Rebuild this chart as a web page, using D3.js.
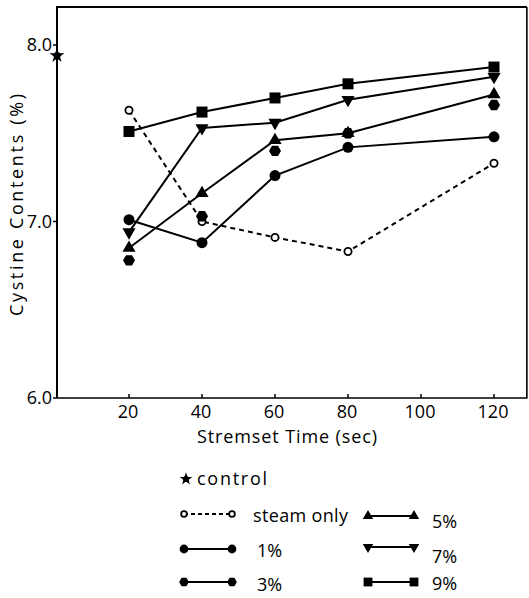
<!DOCTYPE html>
<html>
<head>
<meta charset="utf-8">
<script src="https://cdn.jsdelivr.net/npm/d3@7"></script>
<style>
  html, body { margin: 0; padding: 0; background: #fff; }
  svg { display: block; font-family: 'Open Sans', sans-serif; }
</style>
</head>
<body>
<div id="chart"></div>
<script>
// stremset time (sec) where samples were taken
const times = [20, 40, 60, 80, 120];
const xTicks = [20, 40, 60, 80, 100, 120];
const yTicks = [6.0, 7.0, 8.0];

// cystine contents (%)
const controlValue = 7.94;
const steamOnly = [7.63, 7.00, 6.91, 6.83, 7.33];
const pct1 = [7.01, 6.88, 7.26, 7.42, 7.48];
const pct3 = [6.78, 7.03, 7.40, 7.50, 7.66];
const pct5 = [6.85, 7.16, 7.46, 7.50, 7.72];
const pct7 = [6.94, 7.53, 7.56, 7.69, 7.82];
const pct9 = [7.51, 7.62, 7.70, 7.78, 7.875];

const series = [
  { name: 'steam only', values: steamOnly, symbol: 'open', dashed: true, line: true },
  { name: '1%', values: pct1, symbol: 'circle', line: true },
  { name: '5%', values: pct5, symbol: 'up', line: true },
  { name: '7%', values: pct7, symbol: 'down', line: true },
  { name: '9%', values: pct9, symbol: 'square', line: true },
  { name: '3%', values: pct3, symbol: 'hex', line: false },
];

const width = 529;
const height = 598;
const x0 = 56;
const xPerSec = 3.65;

const x = d3.scaleLinear().domain([0, 129]).range([x0, x0 + 129 * xPerSec]);
const y = d3.scaleLinear().domain([6.0, 8.0]).range([398, 45]);
const yTop = y.invert(7);

const svg = d3.select('#chart')
  .append('svg')
  .attr('width', width)
  .attr('height', height);

// marker drawing, k scales the size
function marker(g, symbol, cx, cy, k = 1) {
  if (symbol === 'open') {
    g.append('circle').attr('cx', cx).attr('cy', cy).attr('r', 3.6 * k)
      .attr('fill', '#fff').attr('stroke', '#000').attr('stroke-width', 1.8);
  } else if (symbol === 'circle') {
    g.append('circle').attr('cx', cx).attr('cy', cy).attr('r', 5.5 * k).attr('fill', '#000');
  } else if (symbol === 'hex') {
    const r = 6 * k;
    g.append('path')
      .attr('d', d3.line()(d3.range(6).map((i) => [r * Math.cos(i * Math.PI / 3), r * Math.sin(i * Math.PI / 3)])) + 'Z')
      .attr('transform', `translate(${cx},${cy})`)
      .attr('fill', '#000');
  } else if (symbol === 'up') {
    g.append('path')
      .attr('d', d3.symbol(d3.symbolTriangle, 75 * k * k)())
      .attr('transform', `translate(${cx},${cy})`)
      .attr('fill', '#000');
  } else if (symbol === 'down') {
    g.append('path')
      .attr('d', d3.symbol(d3.symbolTriangle, 75 * k * k)())
      .attr('transform', `translate(${cx},${cy}) rotate(180)`)
      .attr('fill', '#000');
  } else if (symbol === 'square') {
    const s = 11 * k;
    g.append('rect').attr('x', cx - s / 2).attr('y', cy - s / 2)
      .attr('width', s).attr('height', s).attr('fill', '#000');
  } else if (symbol === 'star') {
    g.append('path')
      .attr('d', d3.symbol(d3.symbolStar, 70 * k * k)())
      .attr('transform', `translate(${cx},${cy})`)
      .attr('fill', '#000');
    g.append('circle').attr('cx', cx).attr('cy', cy).attr('r', 3.5 * k).attr('fill', '#000');
  }
}

// frame
const frame = svg.append('g')
  .attr('fill', 'none')
  .attr('stroke', '#000')
  .attr('stroke-width', 2);
frame.append('path')
  .attr('d', `M${x(0) + 1},${y(6)}V${y(yTop)}H${x(129)}`);
frame.append('path')
  .attr('d', `M${x(0) + 1},${y(6)}H${x(129)}V${y(yTop)}`)
  .attr('stroke-width', 1.6);

// x ticks (inward)
svg.append('g')
  .selectAll('line')
  .data(xTicks)
  .join('line')
  .attr('x1', (d) => x(d))
  .attr('x2', (d) => x(d))
  .attr('y1', y(6))
  .attr('y2', y(6) - 4)
  .attr('stroke', '#000')
  .attr('stroke-width', 1.5);

svg.append('g')
  .attr('font-size', 18)
  .attr('text-anchor', 'middle')
  .selectAll('text')
  .data(xTicks)
  .join('text')
  .attr('x', (d) => x(d) - 1)
  .attr('y', 418)
  .text((d) => d);

// y ticks (outward)
svg.append('g')
  .selectAll('line')
  .data(yTicks)
  .join('line')
  .attr('x1', x(0) + 1)
  .attr('x2', x(0) - 3)
  .attr('y1', (d) => y(d))
  .attr('y2', (d) => y(d))
  .attr('stroke', '#000')
  .attr('stroke-width', 1.5);

svg.append('g')
  .attr('font-size', 18)
  .attr('text-anchor', 'end')
  .selectAll('text')
  .data(yTicks)
  .join('text')
  .attr('x', 52)
  .attr('y', (d) => y(d) + 6)
  .text((d) => d.toFixed(1));

// axis titles
svg.append('text')
  .attr('x', 197)
  .attr('y', 443)
  .attr('font-size', 18)
  .attr('textLength', 180)
  .attr('lengthAdjust', 'spacing')
  .text('Stremset Time (sec)');

svg.append('text')
  .attr('transform', 'translate(23,316) rotate(-90)')
  .attr('font-size', 18)
  .attr('textLength', 222)
  .attr('lengthAdjust', 'spacing')
  .text('Cystine Contents (%)');

// lines
const line = d3.line()
  .x((d, i) => x(times[i]))
  .y((d) => y(d));

svg.append('g')
  .attr('fill', 'none')
  .attr('stroke', '#000')
  .attr('stroke-width', 2)
  .selectAll('path')
  .data(series.filter((s) => s.line))
  .join('path')
  .attr('stroke-dasharray', (s) => (s.dashed ? '5,4' : null))
  .attr('d', (s) => line(s.values));

// markers
const marks = svg.append('g');
series.forEach((s) => {
  s.values.forEach((v, i) => marker(marks, s.symbol, x(times[i]), y(v)));
});
marker(marks, 'star', x(0) + 1, y(controlValue));

// legend
const legendLeft = [
  { name: 'steam only', symbol: 'open', dashed: true, y: 514, ty: 522, len: 95 },
  { name: '1%', symbol: 'circle', y: 549, ty: 557 },
  { name: '3%', symbol: 'hex', y: 582, ty: 591 },
];
const legendRight = [
  { name: '5%', symbol: 'up', y: 516, ty: 528 },
  { name: '7%', symbol: 'down', y: 547, ty: 563 },
  { name: '9%', symbol: 'square', y: 582, ty: 590 },
];

const legend = svg.append('g').attr('font-size', 18);

marker(legend, 'star', 186, 479, 0.85);
legend.append('text').attr('x', 197).attr('y', 485)
  .attr('textLength', 70).attr('lengthAdjust', 'spacing')
  .text('control');

function legendRow(item, xa, xb, tx) {
  legend.append('line')
    .attr('x1', xa).attr('x2', xb)
    .attr('y1', item.y).attr('y2', item.y)
    .attr('stroke', '#000')
    .attr('stroke-width', 1.8)
    .attr('stroke-dasharray', item.dashed ? '4,3' : null);
  marker(legend, item.symbol, xa, item.y, 0.8);
  marker(legend, item.symbol, xb, item.y, 0.8);
  const t = legend.append('text').attr('x', tx).attr('y', item.ty).text(item.name);
  if (item.len) t.attr('textLength', item.len).attr('lengthAdjust', 'spacing');
}

legendLeft.forEach((item) => legendRow(item, 184, 232, item.name === 'steam only' ? 253 : 257));
legendRight.forEach((item) => legendRow(item, 368, 414, 432));
</script>
</body>
</html>
